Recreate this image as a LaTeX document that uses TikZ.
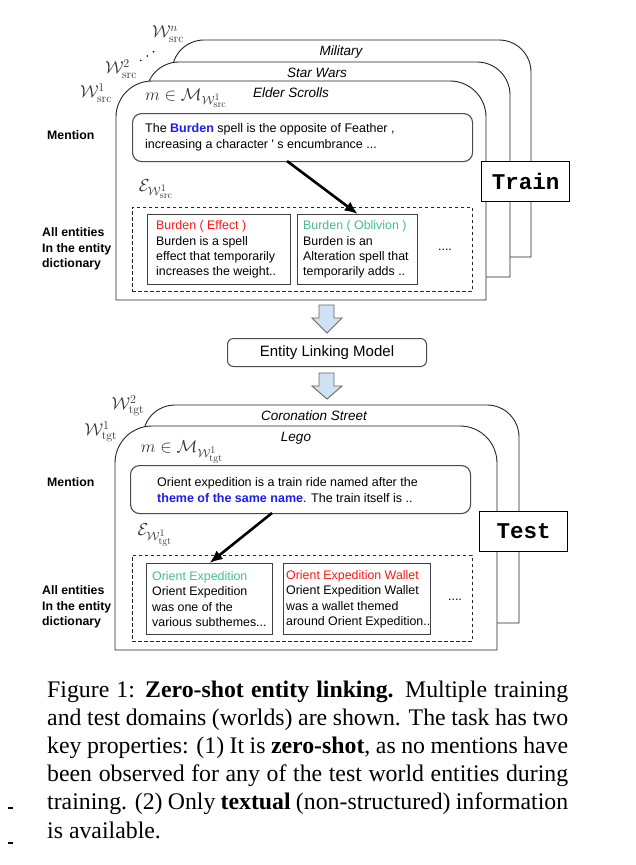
\documentclass[tikz,border=0pt]{standalone}
\usepackage[no-math]{fontspec}
\newfontfamily\arialf{Liberation Sans}
\newfontfamily\timesf{Liberation Serif}
\newfontfamily\courf{Liberation Mono}
\usetikzlibrary{arrows.meta}
\definecolor{mblue}{RGB}{30,30,240}
\definecolor{ered}{RGB}{255,20,20}
\definecolor{egreen}{RGB}{70,190,140}
\definecolor{arrowfill}{RGB}{207,226,243}
\newcommand{\cardshape}[5]{%
  \draw[card] (#1,#4) -- (#1,#2+#5) arc[start angle=180,end angle=270,radius=#5]
    -- (#3-#5,#2) arc[start angle=270,end angle=360,radius=#5] -- (#3,#4) -- cycle;}
\tikzset{
  card/.style={draw=black!85, line width=0.9pt, fill=white},
  mentionbox/.style={draw=black!70, line width=1.1pt, rounded corners=9pt, fill=white,
    inner sep=0pt, minimum height=48pt, anchor=north west},
  mentiontext/.style={align=left, inner sep=0pt, anchor=west,
    font=\arialf\fontsize{12.5}{16}\selectfont},
  entbox/.style={draw=black!75, line width=1.3pt, fill=white, inner sep=0pt, anchor=north west},
  enttext/.style={align=left, inner sep=0pt, anchor=west,
    font=\arialf\fontsize{12.4}{15.3}\selectfont},
  dashbox/.style={draw=black!85, line width=0.9pt, dash pattern=on 3.5pt off 2.5pt,
    anchor=north west, inner sep=0pt},
  sidelabel/.style={font=\arialf\bfseries\fontsize{12.3}{15.5}\selectfont, align=left,
    anchor=west, inner sep=0pt},
  cardtitle/.style={font=\arialf\itshape\fontsize{13.5}{16}\selectfont, inner sep=0pt},
  mathlabel/.style={font=\fontsize{17.28}{20}\selectfont, inner sep=0pt, text=black!80},
  phasebox/.style={draw=black, line width=1pt, fill=white,
    font=\courf\bfseries\fontsize{22.5}{24}\selectfont, minimum width=88pt,
    minimum height=40pt, anchor=north west, inner sep=0pt},
  linkarrow/.style={line width=2.6pt, -{Latex[length=13pt,width=11pt]}},
  blockarrow/.style={draw=black!60, line width=0.9pt, fill=arrowfill},
  dotsstyle/.style={font=\arialf\fontsize{12.5}{15}\selectfont, inner sep=0pt},
}
\begin{document}
\begin{tikzpicture}[x=1pt,y=-1pt]
\useasboundingbox (0,0) rectangle (635,865);
\fill[white] (0,0) rectangle (635,865);

% ---------------- source worlds ----------------
\cardshape{172}{40}{531}{257}{32}
\cardshape{146}{62}{510}{277}{33}
\cardshape{116}{81}{486}{300}{36}
\node[cardtitle] (tmil) at (341,52) {Military};
\node[cardtitle] (tsw) at (317,73) {Star Wars};
\node[cardtitle] (tes) at (291,93) {Elder Scrolls};

\node[mathlabel] (wn) at (168,34) {$\mathcal{W}^{n}_{\mathrm{src}}$};
\node[mathlabel] (w2) at (121,69) {$\mathcal{W}^{2}_{\mathrm{src}}$};
\node[mathlabel] (w1) at (96,93) {$\mathcal{W}^{1}_{\mathrm{src}}$};
\fill (140.7,60.5) circle (0.9) (147.3,56) circle (0.9) (153.6,51.7) circle (0.9);
\node[mathlabel] (msrc) at (186,98) {$m \in \mathcal{M}_{\mathcal{W}^1_{\mathrm{src}}}$};
\node[mathlabel] (esrc) at (156,189) {$\mathcal{E}_{\mathcal{W}^1_{\mathrm{src}}}$};

\node[mentionbox, minimum width=340pt] (m1) at (132,113) {};
\node[mentiontext] (m1t) at ([xshift=13pt]m1.west)
  {The \textcolor{mblue}{\bfseries Burden} spell is the opposite of Feather ,\\increasing a character ' s encumbrance ...};
\node[dashbox, minimum width=340pt, minimum height=84pt] (d1) at (132,207) {};
\node[entbox, minimum width=143pt, minimum height=70pt] (e11) at (147,214) {};
\node[enttext] (e11t) at ([xshift=9pt]e11.west)
  {\textcolor{ered}{Burden ( Effect )}\\Burden is a spell\\effect that temporarily\\increases the weight..};
\node[entbox, minimum width=120pt, minimum height=70pt] (e12) at (297,214) {};
\node[enttext] (e12t) at ([xshift=6pt]e12.west)
  {\textcolor{egreen}{Burden ( Oblivion )}\\Burden is an\\Alteration spell that\\temporarily adds ..};
\node[dotsstyle] (dots1) at (445,250) {....};
\coordinate (s1) at (287,161);
\draw[linkarrow] (s1) -- (e12.north);

\node[phasebox] (train) at (481,161) {Train};
\node[sidelabel] (lm1) at (47,135) {Mention};
\node[sidelabel] (la1) at (42,249) {All entities\\In the entity\\dictionary};

% ---------------- model ----------------
\draw[blockarrow] (319,305) -- (334,305) -- (334,318) -- (342,318) -- (327,333) -- (312,318) -- (319,318) -- cycle;
\node[draw=black!70, line width=1pt, rounded corners=6pt, minimum width=199pt, minimum height=28pt,
  anchor=north west, font=\arialf\fontsize{15}{18}\selectfont, inner sep=0pt] (elm) at (227,338) {Entity Linking Model};
\draw[blockarrow] (319,373) -- (334,373) -- (334,386) -- (342,386) -- (327,399) -- (312,386) -- (319,386) -- cycle;

% ---------------- target worlds ----------------
\cardshape{143}{405}{519}{623}{32}
\cardshape{115}{426}{497}{650}{37}
\node[cardtitle] (tcs) at (314,416) {Coronation Street};
\node[cardtitle] (tlego) at (296,438) {Lego};
\node[mathlabel] (t2) at (128,406) {$\mathcal{W}^{2}_{\mathrm{tgt}}$};
\node[mathlabel] (t1) at (101,432) {$\mathcal{W}^{1}_{\mathrm{tgt}}$};
\node[mathlabel] (mtgt) at (182,452) {$m \in \mathcal{M}_{\mathcal{W}^1_{\mathrm{tgt}}}$};
\node[mathlabel] (etgt) at (155,535) {$\mathcal{E}_{\mathcal{W}^1_{\mathrm{tgt}}}$};

\node[mentionbox, minimum width=340pt] (m2) at (130,465) {};
\node[mentiontext] (m2t) at ([xshift=27pt]m2.west)
  {Orient expedition is a train ride named after the\\\textcolor{mblue}{\bfseries theme of the same name}. The train itself is ..};
\node[dashbox, minimum width=340pt, minimum height=86pt] (d2) at (132,555) {};
\node[entbox, minimum width=126pt, minimum height=71pt] (e21) at (146,563) {};
\node[enttext] (e21t) at ([xshift=6pt]e21.west)
  {\textcolor{egreen}{Orient Expedition}\\Orient Expedition\\was one of the\\various subthemes...};
\node[entbox, minimum width=147pt, minimum height=71pt] (e22) at (283,563) {};
\node[enttext] (e22t) at ([xshift=3pt]e22.west)
  {\textcolor{ered}{Orient Expedition Wallet}\\Orient Expedition Wallet\\was a wallet themed\\around Orient Expedition..};
\node[dotsstyle] (dots2) at (455,600) {....};
\coordinate (s2) at (272,513);
\draw[linkarrow] (s2) -- (e21.north);

\node[phasebox] (test) at (479,511) {Test};
\node[sidelabel] (lm2) at (47,482) {Mention};
\node[sidelabel] (la2) at (42,607) {All entities\\In the entity\\dictionary};

% ---------------- caption ----------------
\node[anchor=base west, inner sep=0pt, text width=521pt, align=justify,
  font=\timesf\fontsize{23.8}{28.2}\selectfont] (cap) at (47,697)
  {Figure 1: \textbf{Zero-shot entity linking.} Multiple training\linebreak
   and test domains (worlds) are shown. The task has two\linebreak
   key properties: (1) It is \textbf{zero-shot}, as no mentions have\linebreak
   been observed for any of the test world entities during\linebreak
   training. (2) Only \textbf{textual} (non-structured) information\linebreak
   is available.};
\draw[line width=1.2pt] (8,808) -- (13,808);
\draw[line width=1.2pt] (8,843) -- (13,843);
\end{tikzpicture}
\end{document}
